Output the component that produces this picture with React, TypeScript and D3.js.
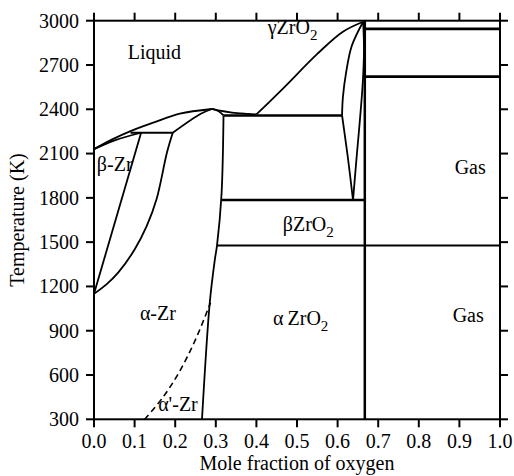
import React from "react";
import * as d3 from "d3";

// Zr–O phase diagram: mole fraction of oxygen vs temperature (K)
type Pt = [number, number];

const xTicks = [0, 0.1, 0.2, 0.3, 0.4, 0.5, 0.6, 0.7, 0.8, 0.9, 1.0];
const yTicks = [300, 600, 900, 1200, 1500, 1800, 2100, 2400, 2700, 3000];

// Phase boundaries (x = mole fraction O, T in K)
const liquidusZr: Pt[] = [[0, 2130], [0.045, 2196], [0.09, 2252], [0.146, 2309], [0.2115, 2370], [0.29, 2402]];
const liquidusMid: Pt[] = [[0.29, 2402], [0.306, 2392], [0.34, 2378], [0.38, 2369], [0.40, 2365]];
const liquidusOxide: Pt[] = [[0.40, 2365], [0.466, 2542], [0.55, 2775], [0.613, 2925], [0.663, 2993]];
const betaSolidus: Pt[] = [[0, 2130], [0.051, 2190], [0.116, 2241]];
const alphaSolidusLeft: Pt[] = [[0.194, 2241], [0.262, 2368], [0.29, 2402]];
const alphaSolidusRight: Pt[] = [[0.29, 2402], [0.307, 2387], [0.319, 2358]];
const alphaZrLimit: Pt[] = [[0.319, 2358], [0.314, 1819], [0.303, 1478], [0.2975, 1379], [0.285, 1086], [0.266, 300]];
const betaTransus: Pt[] = [[0.116, 2241], [0, 1150]];
const alphaTransus: Pt[] = [[0.194, 2241], [0.18, 2110], [0.154, 1790], [0.13, 1610], [0.1, 1450], [0.06, 1295], [0.03, 1212], [0, 1150]];
const alphaPrime: Pt[] = [[0.125, 300], [0.17, 450], [0.21, 620], [0.25, 840], [0.287, 1090]];
const gammaLeft: Pt[] = [[0.663, 2993], [0.635, 2830], [0.621, 2650], [0.613, 2480], [0.611, 2358]];
const lensLeft: Pt[] = [[0.611, 2358], [0.625, 2079], [0.638, 1785]];
const lensRight: Pt[] = [[0.663, 2993], [0.665, 2800], [0.662, 2580], [0.655, 2330], [0.647, 2080], [0.638, 1785]];

// Invariant lines
const peritecticT = 2241;
const peritecticRange: Pt = [0.09, 0.194];
const eutecticT = 2358;
const eutecticRange: Pt = [0.319, 0.611];
const betaGammaT = 1785;
const betaGammaRange: Pt = [0.314, 0.667];
const alphaBetaT = 1478;
const alphaBetaRange: Pt = [0.303, 1.0];
const stoich = 0.667;
const gasLinesT = [2944, 2621];

const labels = [
  { text: "Liquid", x: 0.083, T: 2740, anchor: "start" },
  { text: "β-Zr", x: 0.007, T: 1980, anchor: "start" },
  { text: "α-Zr", x: 0.113, T: 970, anchor: "start" },
  { text: "α'-Zr", x: 0.158, T: 355, anchor: "start" },
  { text: "Gas", x: 0.965, T: 1960, anchor: "end" },
  { text: "Gas", x: 0.96, T: 956, anchor: "end" },
];
const oxideLabels = [
  { main: "γZrO", x: 0.428, T: 2908 },
  { main: "βZrO", x: 0.465, T: 1573 },
  { main: "α\u2009ZrO", x: 0.441, T: 940 },
];

const W = 514;
const H = 476;
const FONT = "Liberation Serif";

export default function App() {
  const x = d3.scaleLinear().domain([0, 1]).range([94, 500]);
  const y = d3.scaleLinear().domain([300, 3000]).range([419.3, 20.7]);
  const curve = d3.line<Pt>().x((d) => x(d[0])).y((d) => y(d[1])).curve(d3.curveCatmullRom.alpha(0.5));
  const straight = d3.line<Pt>().x((d) => x(d[0])).y((d) => y(d[1]));

  const curves = [
    liquidusZr, liquidusMid, liquidusOxide, betaSolidus, alphaSolidusLeft, alphaSolidusRight,
    alphaZrLimit, betaTransus, alphaTransus, gammaLeft, lensLeft, lensRight,
  ];

  const x0 = x(0), x1 = x(1), yTop = y(3000), yBot = y(300);
  const ts = { fontFamily: FONT };

  return (
    <svg width={W} height={H} style={{ display: "block", position: "absolute", left: 0, top: 0 }}>
      <rect width={W} height={H} fill="#fff" />
      {/* curved phase boundaries */}
      {curves.map((c, i) => (
        <path key={"c" + i} d={curve(c) || ""} fill="none" stroke="#000" strokeWidth={1.8} strokeLinejoin="round" />
      ))}
      <path d={curve(alphaPrime) || ""} fill="none" stroke="#000" strokeWidth={1.6} strokeDasharray="6,4" />
      {/* invariant lines */}
      <path d={straight([[peritecticRange[0], peritecticT], [peritecticRange[1], peritecticT]]) || ""} stroke="#000" strokeWidth={2.2} />
      <path d={straight([[eutecticRange[0], eutecticT], [eutecticRange[1], eutecticT]]) || ""} stroke="#000" strokeWidth={2.5} />
      <path d={straight([[betaGammaRange[0], betaGammaT], [betaGammaRange[1], betaGammaT]]) || ""} stroke="#000" strokeWidth={2.5} />
      <path d={straight([[alphaBetaRange[0], alphaBetaT], [alphaBetaRange[1], alphaBetaT]]) || ""} stroke="#000" strokeWidth={2} />
      <path d={straight([[stoich, 300], [stoich, 3000]]) || ""} stroke="#000" strokeWidth={2.5} />
      {gasLinesT.map((t) => (
        <path key={t} d={straight([[stoich, t], [1, t]]) || ""} stroke="#000" strokeWidth={2.7} />
      ))}
      {/* frame */}
      <rect x={x0} y={yTop} width={x1 - x0} height={yBot - yTop} fill="none" stroke="#000" strokeWidth={2} />
      {xTicks.map((t) => (
        <g key={"x" + t}>
          <line x1={x(t)} x2={x(t)} y1={yBot} y2={yBot + 8} stroke="#000" strokeWidth={2} />
          <line x1={x(t)} x2={x(t)} y1={yTop} y2={yTop - 8} stroke="#000" strokeWidth={2} />
          <text x={x(t)} y={448.3} fontSize={20} textAnchor="middle" style={ts}>{t.toFixed(1)}</text>
        </g>
      ))}
      {yTicks.map((t) => (
        <g key={"y" + t}>
          <line x1={x0} x2={x0 - 8} y1={y(t)} y2={y(t)} stroke="#000" strokeWidth={2} />
          <line x1={x1} x2={x1 + 8} y1={y(t)} y2={y(t)} stroke="#000" strokeWidth={2} />
          <text x={79} y={y(t) + 6.8} fontSize={20} textAnchor="end" style={ts}>{t}</text>
        </g>
      ))}
      <text x={(x0 + x1) / 2} y={470} fontSize={20} textAnchor="middle" style={ts}>Mole fraction of oxygen</text>
      <text transform={`translate(24,${(yTop + yBot) / 2}) rotate(-90)`} fontSize={20} textAnchor="middle" style={ts}>Temperature (K)</text>
      {/* region labels */}
      {labels.map((l, i) => (
        <text key={"l" + i} x={x(l.x)} y={y(l.T)} fontSize={20} textAnchor={l.anchor} style={ts}>{l.text}</text>
      ))}
      {oxideLabels.map((l, i) => (
        <text key={"o" + i} x={x(l.x)} y={y(l.T)} fontSize={20} style={ts}>
          {l.main}
          <tspan fontSize={15} dy={6}>2</tspan>
        </text>
      ))}
    </svg>
  );
}
